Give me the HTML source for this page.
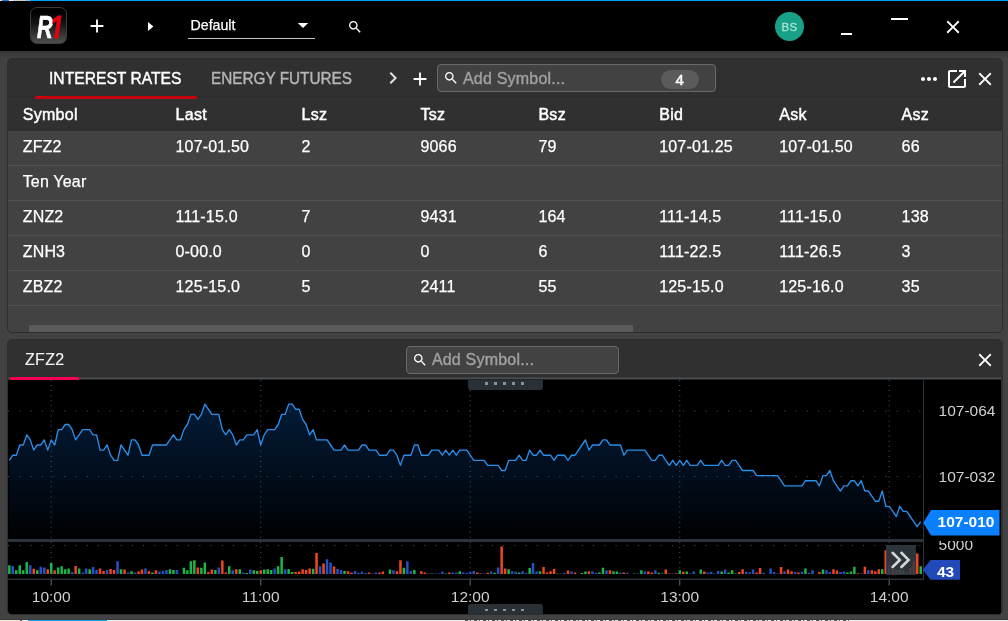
<!DOCTYPE html>
<html lang="en">
<head>
<meta charset="utf-8">
<title>R1 Trader</title>
<style>
html,body{margin:0;padding:0;}
body{width:1008px;height:621px;overflow:hidden;background:#424242;position:relative;font-family:"Liberation Sans",Arial,sans-serif;color:#fff;}
.abs{position:absolute;}
svg{position:absolute;display:block;overflow:visible;}
#topline{left:0;top:0;width:1008px;height:1px;background:#00a3fb;}
#topline i{position:absolute;top:0;height:1px;}
#titlebar{left:0;top:1px;width:1008px;height:50px;background:#000;}
#tshadow{left:0;top:51px;width:1008px;height:8px;background:linear-gradient(#343434,#3a3a3a 40%,#404040 85%,#424242);}
#logo{left:30px;top:7px;width:37px;height:37px;border-radius:7px;box-sizing:border-box;border:1px solid #3c3c3c;background:linear-gradient(#000 10%,#111 40%,#4e4e4e 100%);}
#logo span{position:absolute;font-weight:700;font-style:italic;font-size:31.5px;line-height:31px;transform-origin:0 0;}
.ws{left:188px;top:11px;width:127px;height:27px;border-bottom:1px solid #c8c8c8;}
.ws span{position:absolute;left:2.5px;top:5.5px;font-size:14.2px;line-height:16px;color:#fff;-webkit-text-stroke:0.25px #fff;}
#avatar{left:774.6px;top:11.6px;width:29.6px;height:29.6px;border-radius:50%;background:#18a186;color:#a9e3d6;font-size:11.5px;line-height:30px;text-align:center;letter-spacing:0.2px;-webkit-text-stroke:0.3px #a9e3d6;}
.panel{left:7px;width:996px;box-sizing:border-box;border:1px solid #2c2e30;border-radius:5px;background:#303030;overflow:hidden;}
#p1{top:58px;height:275px;}
#p2{top:339px;height:275.8px;}
.tab{position:absolute;top:8.5px;font-size:16px;line-height:22px;white-space:nowrap;-webkit-text-stroke:0.3px currentColor;}
.rowsbg{left:0;top:72px;width:994px;height:201px;background:#424242;}
.row{position:absolute;left:0;width:994px;height:34px;border-bottom:1px solid #525252;font-size:16px;line-height:32px;letter-spacing:0.18px;-webkit-text-stroke:0.25px #fff;}
.row span,.hdr span{position:absolute;top:0;white-space:nowrap;}
.hdr{position:absolute;left:0;top:39.4px;width:993px;height:34px;font-size:16px;line-height:33px;-webkit-text-stroke:0.45px #fff;letter-spacing:0.3px;}
.c1{left:14.7px}.c2{left:167.5px}.c3{left:293.6px}.c4{left:412.4px}.c5{left:530.4px}.c6{left:651.2px}.c7{left:771.2px}.c8{left:893.6px}
.inp{position:absolute;box-sizing:border-box;border:1px solid #6a6a6a;border-radius:4px;background:#424242;}
.inp span.ph{position:absolute;font-size:16px;line-height:20px;color:#a0a0a0;white-space:nowrap;-webkit-text-stroke:0.4px #a0a0a0;letter-spacing:0.2px;}
.badge{position:absolute;left:222.5px;top:4.5px;width:38.5px;height:19.5px;border-radius:10px;background:#5b5b5b;color:#fff;font-size:15px;line-height:19.5px;text-align:center;-webkit-text-stroke:0.5px #fff;}
#chartwrap{left:0;top:40px;width:993.4px;height:235px;background:#000;}
.ax{position:absolute;font-size:15.5px;line-height:18px;color:#cfcfcf;white-space:nowrap;}
.tl{position:absolute;top:207.7px;width:60px;margin-left:-30px;text-align:center;font-size:15.5px;line-height:18px;color:#cfcfcf;}
.grip{position:absolute;left:459.5px;width:75px;background:#293036;}
.grip i{position:absolute;width:3px;background:#8a9197;}
.plab{position:absolute;color:#fff;font-weight:700;font-size:15.5px;white-space:nowrap;}
#bottomstrip{left:0;top:620px;width:1008px;height:1px;background:#ebebeb;box-shadow:0 -1px 0 #3b3b3b;}
#bottomstrip i{position:absolute;top:0;height:1px;}
</style>
</head>
<body>
<div id="topline" class="abs"><i style="left:0;width:2px;background:#e6e6e6"></i><i style="left:2px;width:7px;background:#1a80e2"></i><i style="left:9px;width:4px;background:#f4f4f4"></i><i style="left:13px;width:13px;background:#cacaca"></i><i style="left:26px;width:4px;background:#8cbbe4"></i></div>
<div id="titlebar" class="abs"></div>
<div id="tshadow" class="abs"></div>

<!-- title bar content -->
<div id="logo" class="abs"><span style="left:5.5px;top:3.9px;color:#fff;transform:scaleX(0.69);-webkit-text-stroke:0.7px #fff">R</span><span style="left:19.4px;top:3.9px;color:#e3000f;transform:scaleX(0.78);-webkit-text-stroke:0.8px #e3000f;clip-path:polygon(0 0,100% 0,100% 70.5%,66% 70.5%,61% 87%,29% 87%,34% 70.5%,0 70.5%)">1</span></div>
<svg style="left:86.2px;top:15.2px" width="22" height="22" viewBox="0 0 24 24"><path fill="#fff" d="M19 13h-6v6h-2v-6H5v-2h6V5h2v6h6v2z"/></svg>
<svg style="left:146px;top:20px" width="10" height="13" viewBox="0 0 10 13"><path fill="#fff" d="M2 2.1l5.4 4.4L2 10.9z"/></svg>
<div class="abs ws"><span>Default</span></div>
<svg style="left:297px;top:21px" width="12" height="8" viewBox="0 0 12 8"><path fill="#fff" d="M0.8 1.9h10.4L6 7.1z"/></svg>
<svg style="left:347.3px;top:19.4px" width="16" height="16" viewBox="0 0 24 24"><path fill="#fff" d="M15.5 14h-.79l-.28-.27C15.41 12.59 16 11.11 16 9.5 16 5.91 13.09 3 9.5 3S3 5.91 3 9.5 5.91 16 9.5 16c1.61 0 3.09-.59 4.23-1.57l.27.28v.79l5 4.99L20.49 19l-4.99-5zm-6 0C7.01 14 5 11.99 5 9.5S7.01 5 9.5 5 14 7.01 14 9.5 11.99 14 9.5 14z"/></svg>
<div id="avatar" class="abs">BS</div>
<div class="abs" style="left:841px;top:32.5px;width:11px;height:2px;background:#fff"></div>
<div class="abs" style="left:891px;top:17.8px;width:17px;height:2px;background:#fff"></div>
<svg style="left:941.5px;top:15.6px" width="22" height="22" viewBox="0 0 24 24"><path fill="#fff" d="M19 6.41L17.59 5 12 10.59 6.41 5 5 6.41 10.59 12 5 17.59 6.41 19 12 13.41 17.59 19 19 17.59 13.41 12z"/></svg>

<!-- panel 1 : quote board -->
<div id="p1" class="abs panel">
  <div class="tab" style="left:41.2px;color:#fff;transform:scaleX(0.978);transform-origin:0 0;-webkit-text-stroke:0.4px #fff">INTEREST RATES</div>
  <div class="tab" style="left:203px;color:#b5b5b5;transform:scaleX(0.957);transform-origin:0 0;-webkit-text-stroke:0.4px #b5b5b5">ENERGY FUTURES</div>
  <div class="abs" style="left:0;top:37px;width:994px;height:1px;background:#2a2c2d"></div>
  <div class="abs" style="left:27px;top:37px;width:162px;height:3px;background:#c6000d"></div>
  <svg style="left:372.6px;top:7px" width="24" height="24" viewBox="0 0 24 24"><path fill="#e0e0e0" d="M10 6L8.59 7.41 13.17 12l-4.58 4.59L10 18l6-6z"/></svg>
  <svg style="left:401px;top:9.3px" width="22" height="22" viewBox="0 0 24 24"><path fill="#fff" d="M19 13h-6v6h-2v-6H5v-2h6V5h2v6h6v2z"/></svg>
  <div class="inp" style="left:429px;top:5px;width:279px;height:28px;">
    <svg style="left:5px;top:5.4px" width="16" height="16" viewBox="0 0 24 24"><path fill="#fff" d="M15.5 14h-.79l-.28-.27C15.41 12.59 16 11.11 16 9.5 16 5.91 13.09 3 9.5 3S3 5.91 3 9.5 5.91 16 9.5 16c1.61 0 3.09-.59 4.23-1.57l.27.28v.79l5 4.99L20.49 19l-4.99-5zm-6 0C7.01 14 5 11.99 5 9.5S7.01 5 9.5 5 14 7.01 14 9.5 11.99 14 9.5 14z"/></svg>
    <span class="ph" style="left:25px;top:3.5px">Add Symbol...</span>
    <div class="badge">4</div>
  </div>
  <svg style="left:909px;top:8px" width="24" height="24" viewBox="0 0 24 24"><path fill="#fff" d="M6 10c-1.1 0-2 .9-2 2s.9 2 2 2 2-.9 2-2-.9-2-2-2zm12 0c-1.1 0-2 .9-2 2s.9 2 2 2 2-.9 2-2-.9-2-2-2zm-6 0c-1.1 0-2 .9-2 2s.9 2 2 2 2-.9 2-2-.9-2-2-2z"/></svg>
  <svg style="left:937px;top:8px" width="24" height="24" viewBox="0 0 24 24"><path fill="#fff" d="M19 19H5V5h7V3H5c-1.11 0-2 .9-2 2v14c0 1.1.89 2 2 2h14c1.1 0 2-.9 2-2v-7h-2v7zM14 3v2h3.59l-9.83 9.83 1.41 1.41L19 6.41V10h2V3h-7z"/></svg>
  <svg style="left:966.2px;top:9px" width="22" height="22" viewBox="0 0 24 24"><path fill="#fff" d="M19 6.41L17.59 5 12 10.59 6.41 5 5 6.41 10.59 12 5 17.59 6.41 19 12 13.41 17.59 19 19 17.59 13.41 12z"/></svg>

  <div class="hdr"><span class="c1">Symbol</span><span class="c2">Last</span><span class="c3">Lsz</span><span class="c4">Tsz</span><span class="c5">Bsz</span><span class="c6">Bid</span><span class="c7">Ask</span><span class="c8">Asz</span></div>
  <div class="abs rowsbg"></div>
  <div class="row" style="top:72px"><span class="c1">ZFZ2</span><span class="c2">107-01.50</span><span class="c3">2</span><span class="c4">9066</span><span class="c5">79</span><span class="c6">107-01.25</span><span class="c7">107-01.50</span><span class="c8">66</span></div>
  <div class="row" style="top:107px"><span class="c1">Ten Year</span></div>
  <div class="row" style="top:142px"><span class="c1">ZNZ2</span><span class="c2">111-15.0</span><span class="c3">7</span><span class="c4">9431</span><span class="c5">164</span><span class="c6">111-14.5</span><span class="c7">111-15.0</span><span class="c8">138</span></div>
  <div class="row" style="top:177px"><span class="c1">ZNH3</span><span class="c2">0-00.0</span><span class="c3">0</span><span class="c4">0</span><span class="c5">6</span><span class="c6">111-22.5</span><span class="c7">111-26.5</span><span class="c8">3</span></div>
  <div class="row" style="top:212px"><span class="c1">ZBZ2</span><span class="c2">125-15.0</span><span class="c3">5</span><span class="c4">2411</span><span class="c5">55</span><span class="c6">125-15.0</span><span class="c7">125-16.0</span><span class="c8">35</span></div>
  <div class="abs" style="left:21px;top:266px;width:604px;height:8px;background:#5a5a5a"></div>
</div>

<!-- panel 2 : chart -->
<div id="p2" class="abs panel">
  <div class="tab" style="left:17px;top:8.5px;color:#f2f2f2;-webkit-text-stroke:0.15px #f2f2f2;letter-spacing:0.35px">ZFZ2</div>
  <div class="inp" style="left:398px;top:6px;width:213px;height:27.5px;">
    <svg style="left:5.3px;top:5.3px" width="16" height="16" viewBox="0 0 24 24"><path fill="#fff" d="M15.5 14h-.79l-.28-.27C15.41 12.59 16 11.11 16 9.5 16 5.91 13.09 3 9.5 3S3 5.91 3 9.5 5.91 16 9.5 16c1.61 0 3.09-.59 4.23-1.57l.27.28v.79l5 4.99L20.49 19l-4.99-5zm-6 0C7.01 14 5 11.99 5 9.5S7.01 5 9.5 5 14 7.01 14 9.5 11.99 14 9.5 14z"/></svg>
    <span class="ph" style="left:24.9px;top:3px">Add Symbol...</span>
  </div>
  <svg style="left:966px;top:9px" width="22" height="22" viewBox="0 0 24 24"><path fill="#fff" d="M19 6.41L17.59 5 12 10.59 6.41 5 5 6.41 10.59 12 5 17.59 6.41 19 12 13.41 17.59 19 19 17.59 13.41 12z"/></svg>
  <div class="abs" style="left:0;top:37px;width:993.4px;height:3px;background:linear-gradient(#3d3e3f 0 1px,#4c4d4f 1px 2px,#20262a 2px 3px)"></div>
  <div class="abs" style="left:2px;top:37px;width:69px;height:3px;background:#f50057"></div>
  <div id="chartwrap" class="abs">
    <svg id="chart" width="994" height="234" viewBox="0 0 994 234">
<defs><linearGradient id="ag" x1="0" y1="0" x2="0" y2="160" gradientUnits="userSpaceOnUse"><stop offset="0" stop-color="#042041"/><stop offset="1" stop-color="#000102"/></linearGradient>
<clipPath id="cp"><rect x="0" y="0" width="915" height="160"/></clipPath></defs>
<g clip-path="url(#cp)"><path d="M1.3,160 L1.3,80.3 L4.8,75.2 L8.3,75.2 L11.8,65 L15.3,65 L18.8,54.8 L22.3,59.9 L25.7,70.1 L29.2,65 L32.7,65 L36.2,59.9 L39.7,70.1 L43.2,59.9 L46.7,65 L50.2,49.6 L53.7,49.6 L57.2,44.5 L60.7,44.5 L64.2,49.6 L67.6,59.9 L71.1,54.8 L74.6,49.6 L78.1,49.6 L81.6,49.6 L85.1,54.8 L88.6,54.8 L92.1,70.1 L95.6,70.1 L99.1,65 L102.6,75.2 L106.1,80.3 L109.6,80.3 L113,65 L116.5,70.1 L120,75.2 L123.5,59.9 L127,59.9 L130.5,65 L134,75.2 L137.5,75.2 L141,75.2 L144.5,65 L148,65 L151.5,65 L154.9,65 L158.4,65 L161.9,59.9 L165.4,54.8 L168.9,59.9 L172.4,59.9 L175.9,49.6 L179.4,44.5 L182.9,34.3 L186.4,34.3 L189.9,39.4 L193.4,34.3 L196.9,24.1 L200.3,29.2 L203.8,34.3 L207.3,34.3 L210.8,34.3 L214.3,49.6 L217.8,54.8 L221.3,49.6 L224.8,54.8 L228.3,65 L231.8,59.9 L235.3,59.9 L238.8,54.8 L242.2,54.8 L245.7,54.8 L249.2,49.6 L252.7,65 L256.2,54.8 L259.7,49.6 L263.2,49.6 L266.7,49.6 L270.2,44.5 L273.7,34.3 L277.2,34.3 L280.7,24.1 L284.2,24.1 L287.6,29.2 L291.1,29.2 L294.6,39.4 L298.1,44.5 L301.6,54.8 L305.1,49.6 L308.6,59.9 L312.1,59.9 L315.6,59.9 L319.1,59.9 L322.6,65 L326.1,70.1 L329.5,70.1 L333,70.1 L336.5,65 L340,70.1 L343.5,70.1 L347,70.1 L350.5,70.1 L354,65 L357.5,65 L361,70.1 L364.5,70.1 L368,70.1 L371.5,75.2 L374.9,75.2 L378.4,75.2 L381.9,70.1 L385.4,70.1 L388.9,75.2 L392.4,85.4 L395.9,75.2 L399.4,75.2 L402.9,75.2 L406.4,65 L409.9,65 L413.4,75.2 L416.8,75.2 L420.3,75.2 L423.8,70.1 L427.3,70.1 L430.8,70.1 L434.3,75.2 L437.8,70.1 L441.3,75.2 L444.8,70.1 L448.3,75.2 L451.8,70.1 L455.3,70.1 L458.8,70.1 L462.2,75.2 L465.7,80.3 L469.2,80.3 L472.7,80.3 L476.2,80.3 L479.7,85.4 L483.2,85.4 L486.7,85.4 L490.2,85.4 L493.7,90.5 L497.2,90.5 L500.7,80.3 L504.1,80.3 L507.6,80.3 L511.1,75.2 L514.6,80.3 L518.1,80.3 L521.6,70.1 L525.1,75.2 L528.6,75.2 L532.1,70.1 L535.6,75.2 L539.1,75.2 L542.6,75.2 L546.1,80.3 L549.5,75.2 L553,75.2 L556.5,75.2 L560,80.3 L563.5,75.2 L567,75.2 L570.5,70.1 L574,65 L577.5,59.9 L581,70.1 L584.5,65 L588,65 L591.4,65 L594.9,59.9 L598.4,59.9 L601.9,65 L605.4,65 L608.9,65 L612.4,65 L615.9,75.2 L619.4,70.1 L622.9,70.1 L626.4,70.1 L629.9,70.1 L633.4,70.1 L636.8,70.1 L640.3,75.2 L643.8,80.3 L647.3,80.3 L650.8,75.2 L654.3,75.2 L657.8,80.3 L661.3,85.4 L664.8,80.3 L668.3,85.4 L671.8,80.3 L675.3,85.4 L678.7,80.3 L682.2,85.4 L685.7,85.4 L689.2,85.4 L692.7,80.3 L696.2,85.4 L699.7,85.4 L703.2,85.4 L706.7,85.4 L710.2,85.4 L713.7,80.3 L717.2,85.4 L720.7,85.4 L724.1,80.3 L727.6,80.3 L731.1,85.4 L734.6,90.5 L738.1,90.5 L741.6,90.5 L745.1,90.5 L748.6,95.6 L752.1,95.6 L755.6,95.6 L759.1,95.6 L762.6,95.6 L766,95.6 L769.5,95.6 L773,100.7 L776.5,105.9 L780,105.9 L783.5,105.9 L787,105.9 L790.5,105.9 L794,105.9 L797.5,100.7 L801,100.7 L804.5,100.7 L808,100.7 L811.4,105.9 L814.9,95.6 L818.4,95.6 L821.9,90.5 L825.4,100.7 L828.9,105.9 L832.4,111 L835.9,105.9 L839.4,105.9 L842.9,100.7 L846.4,100.7 L849.9,105.9 L853.3,100.7 L856.8,111 L860.3,111 L863.8,116.1 L867.3,121.2 L870.8,121.2 L874.3,111 L877.8,126.3 L881.3,126.3 L884.8,131.4 L888.3,136.5 L891.8,126.3 L895.3,131.4 L898.7,131.4 L902.2,136.5 L905.7,141.6 L909.2,146.7 L912.7,141.6 L912.7,160 Z" fill="url(#ag)"/></g>
<line x1="43.2" y1="0" x2="43.2" y2="199" stroke="#3a4c55" stroke-width="1.2" stroke-dasharray="1 4.06"/><line x1="43.2" y1="199" x2="43.2" y2="205.5" stroke="#4a555c" stroke-width="1.3"/><line x1="252.7" y1="0" x2="252.7" y2="199" stroke="#3a4c55" stroke-width="1.2" stroke-dasharray="1 4.06"/><line x1="252.7" y1="199" x2="252.7" y2="205.5" stroke="#4a555c" stroke-width="1.3"/><line x1="462.2" y1="0" x2="462.2" y2="199" stroke="#3a4c55" stroke-width="1.2" stroke-dasharray="1 4.06"/><line x1="462.2" y1="199" x2="462.2" y2="205.5" stroke="#4a555c" stroke-width="1.3"/><line x1="671.7" y1="0" x2="671.7" y2="199" stroke="#3a4c55" stroke-width="1.2" stroke-dasharray="1 4.06"/><line x1="671.7" y1="199" x2="671.7" y2="205.5" stroke="#4a555c" stroke-width="1.3"/><line x1="881.2" y1="0" x2="881.2" y2="199" stroke="#3a4c55" stroke-width="1.2" stroke-dasharray="1 4.06"/><line x1="881.2" y1="199" x2="881.2" y2="205.5" stroke="#4a555c" stroke-width="1.3"/><line x1="0.1" y1="31.2" x2="914" y2="31.2" stroke="#485860" stroke-width="1" stroke-dasharray="1 10.25"/><line x1="0.1" y1="96.6" x2="914" y2="96.6" stroke="#485860" stroke-width="1" stroke-dasharray="1 10.25"/><line x1="0.1" y1="165.6" x2="914" y2="165.6" stroke="#485860" stroke-width="1" stroke-dasharray="1 10.25"/>
<g clip-path="url(#cp)"><polyline points="1.3,80.3 4.8,75.2 8.3,75.2 11.8,65 15.3,65 18.8,54.8 22.3,59.9 25.7,70.1 29.2,65 32.7,65 36.2,59.9 39.7,70.1 43.2,59.9 46.7,65 50.2,49.6 53.7,49.6 57.2,44.5 60.7,44.5 64.2,49.6 67.6,59.9 71.1,54.8 74.6,49.6 78.1,49.6 81.6,49.6 85.1,54.8 88.6,54.8 92.1,70.1 95.6,70.1 99.1,65 102.6,75.2 106.1,80.3 109.6,80.3 113,65 116.5,70.1 120,75.2 123.5,59.9 127,59.9 130.5,65 134,75.2 137.5,75.2 141,75.2 144.5,65 148,65 151.5,65 154.9,65 158.4,65 161.9,59.9 165.4,54.8 168.9,59.9 172.4,59.9 175.9,49.6 179.4,44.5 182.9,34.3 186.4,34.3 189.9,39.4 193.4,34.3 196.9,24.1 200.3,29.2 203.8,34.3 207.3,34.3 210.8,34.3 214.3,49.6 217.8,54.8 221.3,49.6 224.8,54.8 228.3,65 231.8,59.9 235.3,59.9 238.8,54.8 242.2,54.8 245.7,54.8 249.2,49.6 252.7,65 256.2,54.8 259.7,49.6 263.2,49.6 266.7,49.6 270.2,44.5 273.7,34.3 277.2,34.3 280.7,24.1 284.2,24.1 287.6,29.2 291.1,29.2 294.6,39.4 298.1,44.5 301.6,54.8 305.1,49.6 308.6,59.9 312.1,59.9 315.6,59.9 319.1,59.9 322.6,65 326.1,70.1 329.5,70.1 333,70.1 336.5,65 340,70.1 343.5,70.1 347,70.1 350.5,70.1 354,65 357.5,65 361,70.1 364.5,70.1 368,70.1 371.5,75.2 374.9,75.2 378.4,75.2 381.9,70.1 385.4,70.1 388.9,75.2 392.4,85.4 395.9,75.2 399.4,75.2 402.9,75.2 406.4,65 409.9,65 413.4,75.2 416.8,75.2 420.3,75.2 423.8,70.1 427.3,70.1 430.8,70.1 434.3,75.2 437.8,70.1 441.3,75.2 444.8,70.1 448.3,75.2 451.8,70.1 455.3,70.1 458.8,70.1 462.2,75.2 465.7,80.3 469.2,80.3 472.7,80.3 476.2,80.3 479.7,85.4 483.2,85.4 486.7,85.4 490.2,85.4 493.7,90.5 497.2,90.5 500.7,80.3 504.1,80.3 507.6,80.3 511.1,75.2 514.6,80.3 518.1,80.3 521.6,70.1 525.1,75.2 528.6,75.2 532.1,70.1 535.6,75.2 539.1,75.2 542.6,75.2 546.1,80.3 549.5,75.2 553,75.2 556.5,75.2 560,80.3 563.5,75.2 567,75.2 570.5,70.1 574,65 577.5,59.9 581,70.1 584.5,65 588,65 591.4,65 594.9,59.9 598.4,59.9 601.9,65 605.4,65 608.9,65 612.4,65 615.9,75.2 619.4,70.1 622.9,70.1 626.4,70.1 629.9,70.1 633.4,70.1 636.8,70.1 640.3,75.2 643.8,80.3 647.3,80.3 650.8,75.2 654.3,75.2 657.8,80.3 661.3,85.4 664.8,80.3 668.3,85.4 671.8,80.3 675.3,85.4 678.7,80.3 682.2,85.4 685.7,85.4 689.2,85.4 692.7,80.3 696.2,85.4 699.7,85.4 703.2,85.4 706.7,85.4 710.2,85.4 713.7,80.3 717.2,85.4 720.7,85.4 724.1,80.3 727.6,80.3 731.1,85.4 734.6,90.5 738.1,90.5 741.6,90.5 745.1,90.5 748.6,95.6 752.1,95.6 755.6,95.6 759.1,95.6 762.6,95.6 766,95.6 769.5,95.6 773,100.7 776.5,105.9 780,105.9 783.5,105.9 787,105.9 790.5,105.9 794,105.9 797.5,100.7 801,100.7 804.5,100.7 808,100.7 811.4,105.9 814.9,95.6 818.4,95.6 821.9,90.5 825.4,100.7 828.9,105.9 832.4,111 835.9,105.9 839.4,105.9 842.9,100.7 846.4,100.7 849.9,105.9 853.3,100.7 856.8,111 860.3,111 863.8,116.1 867.3,121.2 870.8,121.2 874.3,111 877.8,126.3 881.3,126.3 884.8,131.4 888.3,136.5 891.8,126.3 895.3,131.4 898.7,131.4 902.2,136.5 905.7,141.6 909.2,146.7 912.7,141.6" fill="none" stroke="#2b8ee8" stroke-width="1.35" stroke-linejoin="round"/></g>
<rect x="0" y="159" width="915" height="3" fill="#2b3239"/>
<path d="M0.1,194v-8.8h2.5v8.8zM7,194v-3.8h2.5v3.8zM10.5,194v-8.8h2.5v8.8zM14,194v-3.8h2.5v3.8zM17.5,194v-11.9h2.5v11.9zM28,194v-3.8h2.5v3.8zM42,194v-11h2.5v11zM48.9,194v-6.5h2.5v6.5zM52.4,194v-7.8h2.5v7.8zM55.9,194v-4.8h2.5v4.8zM59.4,194v-5.6h2.5v5.6zM69.9,194v-5.6h2.5v5.6zM80.4,194v-4.8h2.5v4.8zM111.8,194v-4.8h2.5v4.8zM122.3,194v-2.8h2.5v2.8zM143.2,194v-1.6h2.5v1.6zM160.7,194v-4.8h2.5v4.8zM164.2,194v-4h2.5v4zM174.7,194v-6.2h2.5v6.2zM178.1,194v-3.8h2.5v3.8zM181.6,194v-12.8h2.5v12.8zM185.1,194v-13.8h2.5v13.8zM192.1,194v-6.2h2.5v6.2zM195.6,194v-11.5h2.5v11.5zM206.1,194v-4h2.5v4zM220,194v-7.8h2.5v7.8zM230.5,194v-4.8h2.5v4.8zM237.5,194v-1h2.5v1zM244.5,194v-3.8h2.5v3.8zM248,194v-3.1h2.5v3.1zM255,194v-4.4h2.5v4.4zM258.5,194v-4.8h2.5v4.8zM261.9,194v-4h2.5v4zM268.9,194v-7.8h2.5v7.8zM272.4,194v-17.1h2.5v17.1zM279.4,194v-5h2.5v5zM282.9,194v-1.9h2.5v1.9zM303.9,194v-5.2h2.5v5.2zM335.3,194v-3.1h2.5v3.1zM380.7,194v-4.6h2.5v4.6zM394.6,194v-6.2h2.5v6.2zM405.1,194v-4h2.5v4zM422.6,194v-0.6h2.5v0.6zM436.6,194v-0.5h2.5v0.5zM450.5,194v-2.8h2.5v2.8zM485.4,194v-1.2h2.5v1.2zM499.4,194v-4.8h2.5v4.8zM509.9,194v-1.6h2.5v1.6zM520.4,194v-6h2.5v6zM530.8,194v-2.8h2.5v2.8zM548.3,194v-0.6h2.5v0.6zM572.7,194v-1h2.5v1zM576.2,194v-2.5h2.5v2.5zM590.2,194v-1.6h2.5v1.6zM593.7,194v-6.2h2.5v6.2zM604.2,194v-2.8h2.5v2.8zM607.7,194v-2.5h2.5v2.5zM625.1,194v-0.6h2.5v0.6zM632.1,194v-3.8h2.5v3.8zM649.6,194v-1.2h2.5v1.2zM653.1,194v-0.6h2.5v0.6zM670.5,194v-3.8h2.5v3.8zM677.5,194v-2.5h2.5v2.5zM691.5,194v-4.4h2.5v4.4zM712.4,194v-2.5h2.5v2.5zM719.4,194v-1.5h2.5v1.5zM722.9,194v-3.8h2.5v3.8zM726.4,194v-0.5h2.5v0.5zM796.2,194v-5.6h2.5v5.6zM813.7,194v-4.4h2.5v4.4zM838.1,194v-1.6h2.5v1.6zM841.6,194v-2.5h2.5v2.5zM845.1,194v-7.2h2.5v7.2zM873,194v-4.8h2.5v4.8zM890.5,194v-4.8h2.5v4.8zM911.5,194v-7.8h2.5v7.8z" fill="#1cb548"/><path d="M3.5,194v-8.1h2.5v8.1zM21,194v-8.8h2.5v8.8zM31.5,194v-7.2h2.5v7.2zM35,194v-6.5h2.5v6.5zM62.9,194v-1.9h2.5v1.9zM73.4,194v-1.6h2.5v1.6zM76.9,194v-5.6h2.5v5.6zM83.9,194v-6.9h2.5v6.9zM87.3,194v-4h2.5v4zM97.8,194v-4h2.5v4zM108.3,194v-12.8h2.5v12.8zM118.8,194v-1.6h2.5v1.6zM125.8,194v-1.6h2.5v1.6zM136.2,194v-5.6h2.5v5.6zM150.2,194v-2.5h2.5v2.5zM153.7,194v-2.9h2.5v2.9zM157.2,194v-4h2.5v4zM167.7,194v-4h2.5v4zM209.6,194v-6.5h2.5v6.5zM223.5,194v-3.8h2.5v3.8zM234,194v-1.5h2.5v1.5zM241,194v-4.4h2.5v4.4zM265.4,194v-5.6h2.5v5.6zM275.9,194v-4.8h2.5v4.8zM310.8,194v-7.8h2.5v7.8zM317.8,194v-14.8h2.5v14.8zM321.3,194v-11.5h2.5v11.5zM328.3,194v-5h2.5v5zM331.8,194v-4h2.5v4zM345.8,194v-3.1h2.5v3.1zM349.2,194v-1.2h2.5v1.2zM352.7,194v-2.2h2.5v2.2zM356.2,194v-1h2.5v1zM363.2,194v-0.6h2.5v0.6zM366.7,194v-1.6h2.5v1.6zM384.2,194v-3.8h2.5v3.8zM398.1,194v-12.8h2.5v12.8zM401.6,194v-3.1h2.5v3.1zM419.1,194v-0.6h2.5v0.6zM426.1,194v-0.5h2.5v0.5zM429.6,194v-0.5h2.5v0.5zM433.1,194v-2.2h2.5v2.2zM443.5,194v-1.6h2.5v1.6zM447,194v-1.6h2.5v1.6zM454,194v-1.6h2.5v1.6zM457.5,194v-1.2h2.5v1.2zM461,194v-2.2h2.5v2.2zM464.5,194v-3.1h2.5v3.1zM475,194v-0.5h2.5v0.5zM481.9,194v-2.5h2.5v2.5zM488.9,194v-6.5h2.5v6.5zM502.9,194v-2.8h2.5v2.8zM506.4,194v-2.2h2.5v2.2zM513.4,194v-2.8h2.5v2.8zM516.9,194v-1h2.5v1zM523.8,194v-11h2.5v11zM527.3,194v-2.5h2.5v2.5zM551.8,194v-0.5h2.5v0.5zM555.3,194v-1h2.5v1zM562.3,194v-2.5h2.5v2.5zM583.2,194v-2.5h2.5v2.5zM586.7,194v-1.2h2.5v1.2zM597.2,194v-3.8h2.5v3.8zM611.1,194v-1.6h2.5v1.6zM618.1,194v-1.2h2.5v1.2zM628.6,194v-0.5h2.5v0.5zM635.6,194v-2.5h2.5v2.5zM646.1,194v-3.8h2.5v3.8zM663.5,194v-0.5h2.5v0.5zM681,194v-0.6h2.5v0.6zM684.5,194v-2.5h2.5v2.5zM698.4,194v-1.6h2.5v1.6zM701.9,194v-1.9h2.5v1.9zM705.4,194v-0.5h2.5v0.5zM708.9,194v-3.1h2.5v3.1zM715.9,194v-4.4h2.5v4.4zM736.9,194v-2.2h2.5v2.2zM740.4,194v-1.5h2.5v1.5zM743.8,194v-4.6h2.5v4.6zM754.3,194v-1.2h2.5v1.2zM761.3,194v-5.6h2.5v5.6zM764.8,194v-1.9h2.5v1.9zM768.3,194v-0.5h2.5v0.5zM775.3,194v-2.8h2.5v2.8zM785.8,194v-1.9h2.5v1.9zM792.7,194v-2.2h2.5v2.2zM799.7,194v-1.2h2.5v1.2zM803.2,194v-3.8h2.5v3.8zM817.2,194v-3.8h2.5v3.8zM820.7,194v-1.9h2.5v1.9zM831.1,194v-1.9h2.5v1.9zM834.6,194v-2.5h2.5v2.5zM852.1,194v-0.5h2.5v0.5zM859.1,194v-3.8h2.5v3.8zM880,194v-10.6h2.5v10.6zM897.5,194v-1.6h2.5v1.6z" fill="#2552c4"/><path d="M24.5,194v-5.2h2.5v5.2zM38.5,194v-4.8h2.5v4.8zM45.4,194v-3.8h2.5v3.8zM66.4,194v-7.9h2.5v7.9zM90.8,194v-5.6h2.5v5.6zM94.3,194v-3.1h2.5v3.1zM101.3,194v-5h2.5v5zM104.8,194v-4h2.5v4zM115.3,194v-4.4h2.5v4.4zM129.3,194v-2.5h2.5v2.5zM132.7,194v-4.4h2.5v4.4zM139.7,194v-2.8h2.5v2.8zM146.7,194v-3.8h2.5v3.8zM188.6,194v-6.5h2.5v6.5zM199.1,194v-1.9h2.5v1.9zM202.6,194v-4.4h2.5v4.4zM213.1,194v-13.4h2.5v13.4zM216.6,194v-1.6h2.5v1.6zM227,194v-4.8h2.5v4.8zM251.5,194v-3.8h2.5v3.8zM286.4,194v-1.9h2.5v1.9zM289.9,194v-2.5h2.5v2.5zM293.4,194v-4.8h2.5v4.8zM296.9,194v-4h2.5v4zM300.4,194v-5.6h2.5v5.6zM307.3,194v-21h2.5v21zM314.3,194v-10.6h2.5v10.6zM324.8,194v-7.5h2.5v7.5zM338.8,194v-2.8h2.5v2.8zM342.3,194v-1.6h2.5v1.6zM359.7,194v-1.6h2.5v1.6zM370.2,194v-1.6h2.5v1.6zM373.7,194v-2.5h2.5v2.5zM387.7,194v-2.8h2.5v2.8zM391.2,194v-13.8h2.5v13.8zM412.1,194v-2.8h2.5v2.8zM415.6,194v-1.6h2.5v1.6zM440,194v-1.6h2.5v1.6zM468,194v-1.6h2.5v1.6zM471.5,194v-0.6h2.5v0.6zM478.5,194v-1.2h2.5v1.2zM492.4,194v-27.5h2.5v27.5zM495.9,194v-5.6h2.5v5.6zM534.3,194v-6.9h2.5v6.9zM537.8,194v-1.6h2.5v1.6zM541.3,194v-2.8h2.5v2.8zM544.8,194v-5.2h2.5v5.2zM558.8,194v-3.4h2.5v3.4zM565.8,194v-1.6h2.5v1.6zM579.7,194v-2.8h2.5v2.8zM600.7,194v-3.8h2.5v3.8zM614.6,194v-1.6h2.5v1.6zM639.1,194v-2.5h2.5v2.5zM642.6,194v-1.6h2.5v1.6zM656.5,194v-4.4h2.5v4.4zM660,194v-0.5h2.5v0.5zM667,194v-0.8h2.5v0.8zM674,194v-2.2h2.5v2.2zM695,194v-2.5h2.5v2.5zM729.9,194v-1.9h2.5v1.9zM733.4,194v-4.8h2.5v4.8zM747.3,194v-1.6h2.5v1.6zM750.8,194v-6h2.5v6zM771.8,194v-6.9h2.5v6.9zM778.8,194v-4.4h2.5v4.4zM782.3,194v-2.8h2.5v2.8zM789.2,194v-1.6h2.5v1.6zM810.2,194v-1.9h2.5v1.9zM824.2,194v-4.8h2.5v4.8zM827.7,194v-3.5h2.5v3.5zM848.6,194v-0.8h2.5v0.8zM855.6,194v-7.2h2.5v7.2zM862.6,194v-3.8h2.5v3.8zM866.1,194v-2.8h2.5v2.8zM869.6,194v-4.8h2.5v4.8zM876.5,194v-23.8h2.5v23.8zM883.5,194v-4.8h2.5v4.8zM887,194v-4.8h2.5v4.8zM894,194v-4h2.5v4zM901,194v-6h2.5v6zM904.5,194v-12.8h2.5v12.8zM908,194v-20.6h2.5v20.6z" fill="#ef4520"/>
<rect x="0" y="198.6" width="916" height="1.4" fill="#2b3239"/>
<rect x="915" y="0" width="1" height="200" fill="#2c343b"/>
</svg>
    <div class="grip" style="top:0;height:10px;border-radius:0 0 3px 3px"><i style="left:17.4px;top:2px;height:3px"></i><i style="left:26.4px;top:2px;height:3px"></i><i style="left:35.4px;top:2px;height:3px"></i><i style="left:44.4px;top:2px;height:3px"></i><i style="left:53.4px;top:2px;height:3px"></i></div>
    <div class="grip" style="top:224px;height:10px;border-radius:3px 3px 0 0"><i style="left:17.4px;top:4.5px;height:2.5px"></i><i style="left:26.4px;top:4.5px;height:2.5px"></i><i style="left:35.4px;top:4.5px;height:2.5px"></i><i style="left:44.4px;top:4.5px;height:2.5px"></i><i style="left:53.4px;top:4.5px;height:2.5px"></i></div>
    <div class="ax" style="left:930.6px;top:22.2px">107-064</div>
    <div class="ax" style="left:930.6px;top:87.6px">107-032</div>
    <div class="abs" style="left:916px;top:161px;width:77px;height:20px;overflow:hidden"><div class="ax" style="left:14.6px;top:-4.8px">5000</div></div>
    <div class="tl" style="left:43.2px">10:00</div>
    <div class="tl" style="left:252.7px">11:00</div>
    <div class="tl" style="left:462.2px">12:00</div>
    <div class="tl" style="left:671.7px">13:00</div>
    <div class="tl" style="left:881.2px">14:00</div>
    <!-- scroll-to-latest button -->
    <div class="abs" style="left:878px;top:165px;width:30px;height:29.5px;background:rgba(50,60,67,0.86)"></div>
    <svg style="left:878px;top:165px" width="30" height="30" viewBox="0 0 30 30"><path d="M6.6 7.8l7.2 7.1-7.2 7.1M15.4 7.8l7.2 7.1-7.2 7.1" fill="none" stroke="#d6d6d6" stroke-width="2.6" stroke-linecap="round"/></svg>
    <!-- price labels -->
    <svg style="left:915px;top:129.6px" width="78" height="26" viewBox="0 0 78 26"><path fill="#0a80ff" d="M0.3 12.7L8 0h68.5v25.4H8z"/></svg>
    <div class="plab" style="left:929.6px;top:132.8px;line-height:18px">107-010</div>
    <svg style="left:915px;top:180.2px" width="38" height="20" viewBox="0 0 38 20"><path fill="#2149ba" d="M-0.3 9.8L7.6 0h29.4v19.7H7.6z"/></svg>
    <div class="plab" style="left:929px;top:183.4px;line-height:18px">43</div>
  </div>
</div>

<div id="bottomstrip" class="abs"><i style="left:0;width:20px;background:#f3ecd2"></i><i style="left:20px;width:2px;background:#555"></i><i style="left:28px;width:79px;background:#19a7e6"></i><i style="left:465px;width:385px;background:repeating-linear-gradient(90deg,#555 0 3px,#ddd 3px 5px,#666 5px 6px,#eee 6px 9px)"></i></div>
</body>
</html>
